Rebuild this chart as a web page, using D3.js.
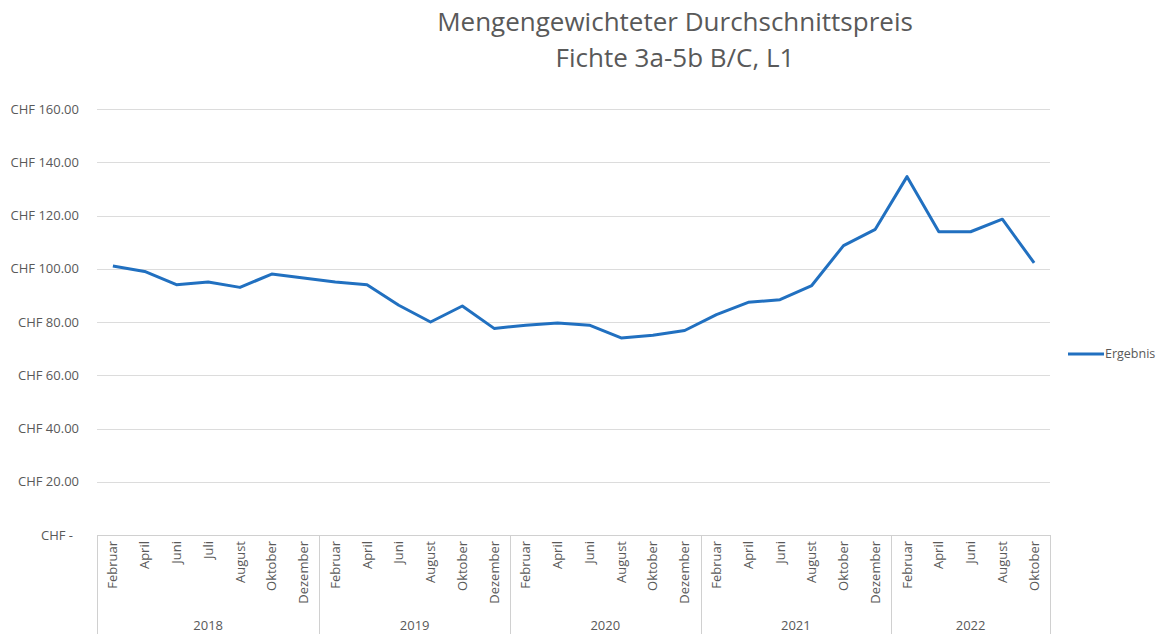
<!DOCTYPE html>
<html>
<head>
<meta charset="utf-8">
<script src="https://cdn.jsdelivr.net/npm/d3@7"></script>
<style>
  body { margin: 0; background: #fff; }
  svg { font-family: "Open Sans", sans-serif; }
</style>
</head>
<body>
<div id="container"></div>
<script>
const years = ["2018", "2019", "2020", "2021", "2022"]
const months = [
    ["Februar", "April", "Juni", "Juli", "August", "Oktober", "Dezember"],
    ["Februar", "April", "Juni", "August", "Oktober", "Dezember"],
    ["Februar", "April", "Juni", "August", "Oktober", "Dezember"],
    ["Februar", "April", "Juni", "August", "Oktober", "Dezember"],
    ["Februar", "April", "Juni", "August", "Oktober"]
]
const values = [
    101, 99, 94, 95, 93, 98, 96.5,
    95, 94, 86.3, 80, 86, 77.6,
    78.8, 79.6, 78.8, 74, 75, 76.8,
    82.8, 87.4, 88.4, 93.7, 108.7, 114.8,
    134.6, 113.9, 113.9, 118.6, 102.2
]
const yTicks = [0, 20, 40, 60, 80, 100, 120, 140, 160]
const seriesName = "Ergebnis"

// flatten categories
const cats = []
months.forEach((ms, yi) => ms.forEach(m => cats.push({ year: years[yi], month: m, key: years[yi] + "-" + m })))
const data = cats.map((c, i) => ({ ...c, value: values[i] }))

const W = 1165, H = 634
const plotLeft = 97, plotRight = 1050, plotTop = 109, plotBottom = 535
const grey = "#595959"

const svg = d3.select("div#container")
    .append("svg")
    .attr("width", W)
    .attr("height", H)

const x = d3.scaleBand()
    .domain(cats.map(c => c.key))
    .range([plotLeft, plotRight])

const y = d3.scaleLinear()
    .domain([0, 160])
    .range([plotBottom, plotTop])

// title
const title = svg.append("text")
    .attr("text-anchor", "middle")
    .style("fill", grey)
    .style("font-size", "26px")
title.append("tspan").attr("x", 675).attr("y", 31).text("Mengengewichteter Durchschnittspreis")
title.append("tspan").attr("x", 675).attr("y", 67).text("Fichte 3a-5b B/C, L1")

// gridlines
svg.append("g")
    .selectAll("line")
    .data(yTicks.filter(d => d > 0))
    .enter()
    .append("line")
    .attr("x1", plotLeft)
    .attr("x2", plotRight)
    .attr("y1", d => Math.round(y(d)) + 0.5)
    .attr("y2", d => Math.round(y(d)) + 0.5)
    .style("stroke", "#dcdcdc")
    .style("stroke-width", 1)

// y axis labels
svg.append("g")
    .selectAll("text")
    .data(yTicks)
    .enter()
    .append("text")
    .attr("x", d => d === 0 ? 73 : 79)
    .attr("y", d => y(d))
    .attr("dy", "0.35em")
    .attr("text-anchor", "end")
    .style("fill", grey)
    .style("font-size", "13px")
    .text(d => d === 0 ? "CHF -" : "CHF " + d3.format(".2f")(d))

// category axis box
const axisG = svg.append("g")
axisG.append("line")
    .attr("x1", plotLeft).attr("x2", plotRight)
    .attr("y1", plotBottom + 0.5).attr("y2", plotBottom + 0.5)
    .style("stroke", "#d0d0d0")

// year groups
let start = 0
const groups = []
months.forEach((ms, yi) => {
    const first = cats[start].key
    const last = cats[start + ms.length - 1].key
    groups.push({ year: years[yi], x0: x(first), x1: x(last) + x.bandwidth() })
    start += ms.length
})
const sepX = [plotLeft].concat(groups.map(g => g.x1))
axisG.selectAll("line.sep")
    .data(sepX)
    .enter()
    .append("line")
    .attr("class", "sep")
    .attr("x1", d => Math.round(d) + 0.5)
    .attr("x2", d => Math.round(d) + 0.5)
    .attr("y1", plotBottom)
    .attr("y2", H)
    .style("stroke", "#d0d0d0")

// month labels
axisG.selectAll("text.month")
    .data(cats)
    .enter()
    .append("text")
    .attr("class", "month")
    .attr("transform", d => `translate(${x(d.key) + x.bandwidth() / 2}, ${plotBottom + 6}) rotate(-90)`)
    .attr("text-anchor", "end")
    .attr("dy", "0.35em")
    .style("fill", grey)
    .style("font-size", "13px")
    .text(d => d.month)

// year labels
axisG.selectAll("text.year")
    .data(groups)
    .enter()
    .append("text")
    .attr("class", "year")
    .attr("x", d => (d.x0 + d.x1) / 2)
    .attr("y", 630)
    .attr("text-anchor", "middle")
    .style("fill", grey)
    .style("font-size", "13px")
    .text(d => d.year)

// line
const line = d3.line()
    .x(d => x(d.key) + x.bandwidth() / 2)
    .y(d => y(d.value))

svg.append("path")
    .datum(data)
    .attr("d", line)
    .style("fill", "none")
    .style("stroke", "#2170c0")
    .style("stroke-width", 3)
    .style("stroke-linejoin", "round")

// legend
const legend = svg.append("g").attr("transform", "translate(1068, 354)")
legend.append("line")
    .attr("x1", 0).attr("x2", 36)
    .style("stroke", "#2170c0")
    .style("stroke-width", 3)
legend.append("text")
    .attr("x", 37)
    .attr("dy", "0.35em")
    .style("fill", grey)
    .style("font-size", "12.5px")
    .text(seriesName)
</script>
</body>
</html>
